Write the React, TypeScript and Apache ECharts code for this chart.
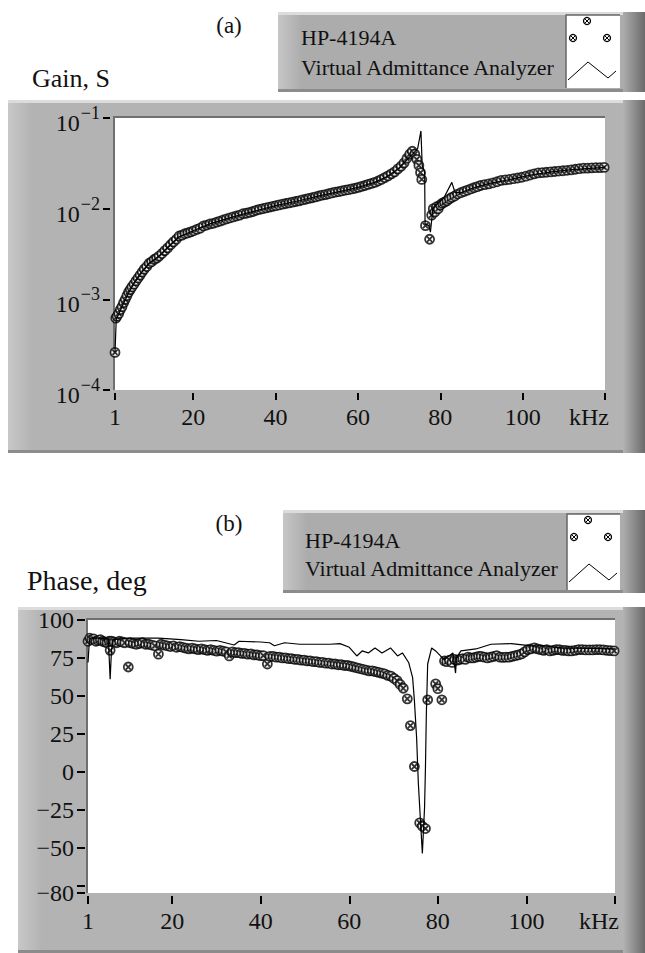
import React, { useEffect, useRef } from "react";
import * as echarts from "echarts";

const FONT = '"Liberation Serif", "Times New Roman", serif';

// ---------- (a) Gain ----------
const gainMarkFreq = [1, 1.2, 1.5, 1.9, 2.3, 2.7, 3.1, 3.5, 3.9, 4.3, 4.7, 5.1, 5.6, 6.1, 6.6, 7.1, 7.6, 8.1, 8.7, 9.3, 9.9, 10.5, 11.1, 11.7, 12.4, 13.1, 13.8, 14.5, 15.2, 15.9, 16.6, 17.3, 18.0, 18.7, 19.4, 20.1, 20.9, 21.7, 22.5, 23.3, 24.1, 24.9, 25.7, 26.5, 27.3, 28.1, 28.9, 29.7, 30.5, 31.3, 32.1, 32.9, 33.7, 34.5, 35.3, 36.1, 36.9, 37.7, 38.5, 39.3, 40.1, 40.9, 41.7, 42.5, 43.3, 44.1, 44.9, 45.7, 46.5, 47.3, 48.1, 48.9, 49.7, 50.5, 51.3, 52.1, 52.9, 53.7, 54.5, 55.3, 56.1, 56.9, 57.7, 58.5, 59.3, 60.1, 60.9, 61.7, 62.5, 63.3, 64.1, 64.9, 65.7, 66.5, 67.3, 68.1, 68.9, 69.7, 70.5, 71.2, 71.9, 72.6, 73.2, 73.8, 74.3, 74.8, 75.2, 75.5, 76.4, 77.4, 77.9, 78.3, 78.7, 79.1, 79.5, 80.0, 80.5, 81.0, 81.6, 82.2, 82.8, 83.5, 84.2, 85.0, 85.8, 86.6, 87.4, 88.2, 89.0, 89.8, 90.8, 91.8, 92.8, 93.8, 94.8, 95.8, 96.8, 97.8, 98.8, 99.8, 100.8, 101.8, 102.8, 103.8, 104.8, 105.8, 106.8, 107.8, 108.8, 109.8, 110.8, 111.8, 112.8, 113.8, 114.8, 115.8, 116.8, 117.8, 118.8, 119.8];
const gainMarkVal = [2.6e-4, 6.2e-4, 6.5e-4, 7.0e-4, 7.7e-4, 8.3e-4, 9.2e-4, 1.0e-3, 1.1e-3, 1.2e-3, 1.28e-3, 1.37e-3, 1.47e-3, 1.6e-3, 1.72e-3, 1.85e-3, 2.0e-3, 2.15e-3, 2.3e-3, 2.5e-3, 2.6e-3, 2.75e-3, 2.85e-3, 3.0e-3, 3.2e-3, 3.45e-3, 3.7e-3, 4.0e-3, 4.3e-3, 4.6e-3, 5.0e-3, 5.1e-3, 5.3e-3, 5.4e-3, 5.55e-3, 5.7e-3, 5.9e-3, 6.1e-3, 6.45e-3, 6.6e-3, 6.8e-3, 6.9e-3, 7.1e-3, 7.3e-3, 7.5e-3, 7.7e-3, 7.9e-3, 8.1e-3, 8.3e-3, 8.5e-3, 8.8e-3, 8.9e-3, 9.1e-3, 9.3e-3, 9.6e-3, 9.8e-3, 1.0e-2, 1.02e-2, 1.04e-2, 1.06e-2, 1.08e-2, 1.1e-2, 1.12e-2, 1.14e-2, 1.16e-2, 1.18e-2, 1.2e-2, 1.22e-2, 1.25e-2, 1.27e-2, 1.3e-2, 1.32e-2, 1.35e-2, 1.38e-2, 1.41e-2, 1.43e-2, 1.46e-2, 1.49e-2, 1.52e-2, 1.54e-2, 1.57e-2, 1.6e-2, 1.62e-2, 1.65e-2, 1.68e-2, 1.72e-2, 1.76e-2, 1.8e-2, 1.85e-2, 1.9e-2, 1.95e-2, 2.02e-2, 2.1e-2, 2.2e-2, 2.3e-2, 2.42e-2, 2.55e-2, 2.75e-2, 2.95e-2, 3.2e-2, 3.6e-2, 4.0e-2, 4.3e-2, 4.0e-2, 3.5e-2, 3.0e-2, 2.5e-2, 2.1e-2, 6.5e-3, 4.6e-3, 8.5e-3, 1.0e-2, 9.2e-3, 1.05e-2, 1.0e-2, 1.1e-2, 1.15e-2, 1.18e-2, 1.22e-2, 1.28e-2, 1.33e-2, 1.38e-2, 1.45e-2, 1.5e-2, 1.55e-2, 1.6e-2, 1.65e-2, 1.7e-2, 1.75e-2, 1.8e-2, 1.84e-2, 1.88e-2, 1.93e-2, 1.98e-2, 2.05e-2, 2.08e-2, 2.1e-2, 2.14e-2, 2.18e-2, 2.22e-2, 2.28e-2, 2.35e-2, 2.42e-2, 2.48e-2, 2.5e-2, 2.52e-2, 2.55e-2, 2.57e-2, 2.6e-2, 2.62e-2, 2.65e-2, 2.68e-2, 2.72e-2, 2.76e-2, 2.8e-2, 2.8e-2, 2.82e-2, 2.83e-2, 2.84e-2, 2.85e-2];

const gainLineFreq = [1, 1.3, 2.7, 4.2, 5.6, 7.3, 9.3, 11.7, 14.2, 16.6, 20, 24, 28.8, 33.7, 40, 45.9, 50.8, 56, 60, 64, 67, 70, 72, 73.5, 74.5, 75.3, 75.6, 76.2, 76.3, 77.2, 77.6, 78.2, 79.5, 81, 82.8, 83.6, 85, 88, 92, 97, 102, 107, 112, 120];
const gainLineVal = [2.6e-4, 6.0e-4, 8.3e-4, 1.15e-3, 1.5e-3, 1.95e-3, 2.5e-3, 3.0e-3, 3.9e-3, 4.9e-3, 5.7e-3, 6.8e-3, 7.9e-3, 9.1e-3, 1.08e-2, 1.23e-2, 1.39e-2, 1.56e-2, 1.72e-2, 1.95e-2, 2.25e-2, 2.8e-2, 3.5e-2, 4.1e-2, 4.6e-2, 7.2e-2, 3.0e-2, 2.5e-2, 6.8e-3, 6.5e-3, 5.5e-3, 1.0e-2, 1.15e-2, 1.35e-2, 1.95e-2, 1.5e-2, 1.5e-2, 1.7e-2, 1.9e-2, 2.1e-2, 2.35e-2, 2.55e-2, 2.7e-2, 2.85e-2];

// ---------- (b) Phase ----------
const phaseMarkFreq = [1, 1.4, 1.8, 2.3, 2.8, 3.3, 3.8, 4.3, 4.8, 5.3, 5.8, 6.0, 6.3, 6.9, 7.5, 8.1, 8.7, 9.3, 10.1, 10.5, 11.2, 11.9, 12.6, 13.3, 14, 14.7, 15.4, 16.1, 16.9, 17.5, 18.2, 18.9, 19.6, 20.3, 21, 21.7, 22.4, 23.1, 23.8, 24.5, 25.2, 25.9, 26.6, 27.3, 28, 28.7, 29.4, 30.1, 30.8, 31.5, 32.2, 32.9, 33.6, 34.3, 35, 35.7, 36.4, 37.1, 37.8, 38.5, 39.2, 39.9, 40.6, 41.5, 42.1, 42.8, 43.5, 44.2, 44.9, 45.6, 46.3, 47, 47.7, 48.4, 49.1, 49.8, 50.5, 51.2, 51.9, 52.6, 53.3, 54, 54.7, 55.4, 56.1, 56.8, 57.5, 58.2, 58.9, 59.6, 60.3, 61, 61.7, 62.4, 63.1, 63.8, 64.5, 65.2, 65.9, 66.6, 67.3, 68, 68.7, 69.4, 70.1, 70.8, 71.5, 72.2, 73.1, 73.8, 74.7, 75.9, 76.5, 77.2, 77.7, 79.5, 80, 80.9, 81.5, 82, 82.6, 83.2, 83.8, 84.4, 85, 85.6, 86.2, 86.8, 87.4, 88, 88.6, 89.2, 89.8, 90.5, 91.2, 91.9, 92.6, 93.3, 94, 94.7, 95.4, 96.1, 96.8, 97.5, 98.2, 98.9, 99.6, 100.3, 101, 101.8, 102.5, 103.2, 103.9, 104.6, 105.3, 106, 106.7, 107.4, 108.1, 108.8, 109.5, 110.2, 111, 111.8, 112.6, 113.4, 114.2, 115, 115.8, 116.6, 117.4, 118.2, 119, 119.8];
const phaseMarkVal = [86, 88, 87, 87.5, 86, 86.5, 87, 86, 85.5, 85, 86, 80, 86, 85.5, 85, 86, 85.5, 85, 69, 85, 84.5, 84, 84.5, 85, 84, 84, 83.5, 83, 77.5, 84, 83.5, 83, 82.5, 83, 82, 82.5, 82, 81.5, 81, 81.5, 81, 80.5, 81, 80.5, 80, 80.5, 80, 79.5, 80, 79.5, 79, 76.3, 79, 78.5, 78.5, 78, 78, 77.5, 77.6, 77, 77, 76.5, 76.5, 71, 76, 76, 75.5, 75.5, 75, 75, 74.5, 74.5, 74, 74, 73.5, 73.5, 73, 73, 72.5, 72.5, 72, 72, 71.5, 71.5, 71, 71, 70.5, 70.5, 70, 70, 69.5, 69, 68.5, 68, 67.5, 67, 66.5, 66.5, 66, 65.5, 65, 64.5, 63.5, 63, 61.5, 60, 57.5, 55, 48, 30.4, 3.4, -33.8, -36, -37.5, 47.4, 57.9, 54.7, 47.4, 73, 72.5, 73.5, 72, 74, 73.5, 74, 74.5, 74, 75.5, 75, 75, 75.5, 76, 76, 75.5, 75, 75.5, 76, 76.5, 75.5, 75.3, 75.5, 75.5, 76, 76.5, 77, 77.6, 79, 80.5, 81, 81.6, 81, 80.5, 80, 80.5, 79.6, 80, 80.5, 80.5, 80, 80, 79.6, 79.6, 80, 80.5, 80.5, 80.3, 80.3, 80.3, 80.5, 80.5, 80.3, 80, 79.8, 79.6];

const phaseLineFreq = [1, 1.3, 1.6, 3, 5.6, 6, 6.3, 6.7, 10, 16.9, 22, 26, 30, 34, 35.1, 40, 42, 43.1, 45.4, 48.8, 55.6, 57.9, 60, 61.7, 62.9, 64.3, 65.8, 67.4, 69.3, 70.9, 72, 73.4, 74.3, 74.7, 75.2, 75.6, 75.9, 76.5, 77, 77.2, 77.4, 77.7, 78.6, 79.5, 80.6, 81.5, 83.4, 84, 84.2, 85.2, 88.6, 92, 96.6, 101.1, 104, 107.9, 120];
const phaseLineVal = [72, 86, 88, 88, 87.5, 61, 80, 87, 88, 88, 87, 86, 86.5, 83.5, 86, 85.5, 85, 83, 85, 84, 84, 84.4, 82, 76.3, 79.6, 78.3, 81.6, 78.3, 81.6, 76.3, 78.3, 72, 62, 47, 22.5, -8, -23.5, -54, -23.5, 3, 38, 71, 81.6, 79.6, 76.3, 74, 78.3, 65, 75, 79.6, 80.9, 84, 84.4, 83, 83, 81.6, 81];

// ---------- axis ticks / labels ----------
const xTicks = [1, 20, 40, 60, 80, 100, 120];
const phaseTickValues = [100, 75, 50, 25, 0, -25, -50, -75, -80];
const phaseLabelValues = [100, 75, 50, 25, 0, -25, -50, -80];

const MARKER = "path://M10,5A5,5,0,1,1,0,5A5,5,0,1,1,10,5ZM2.2,2.2L7.8,7.8M7.8,2.2L2.2,7.8";

function pairs(xs: number[], ys: number[]) {
  return xs.map((x, i) => [x, ys[i]]);
}

function panel(x: number, y: number, w: number, h: number, base: string, light: string) {
  return [
    { type: "rect", shape: { x, y, width: w, height: h }, style: { fill: base }, z: 0, silent: true },
    {
      type: "rect",
      shape: { x, y, width: 24, height: h },
      style: {
        fill: new echarts.graphic.LinearGradient(0, 0, 1, 0, [
          { offset: 0, color: light },
          { offset: 1, color: base },
        ]),
      },
      z: 0,
      silent: true,
    },
    { type: "rect", shape: { x, y, width: w, height: 3 }, style: { fill: "#dcdcdc" }, z: 0, silent: true },
    { type: "rect", shape: { x, y: y + h - 3, width: w, height: 3 }, style: { fill: "#8c8c8c" }, z: 0, silent: true },
    {
      type: "rect",
      shape: { x: 645 - 22, y, width: 22, height: h },
      style: {
        fill: new echarts.graphic.LinearGradient(0, 0, 1, 0, [
          { offset: 0, color: base },
          { offset: 1, color: "#6a6a6a" },
        ]),
      },
      z: 0,
      silent: true,
    },
  ];
}

function plotArea(x: number, y: number, w: number, h: number) {
  return [
    { type: "rect", shape: { x, y, width: w, height: h }, style: { fill: "#ffffff" }, z: 1, silent: true },
    {
      type: "polyline",
      shape: { points: [[x - 1, y + h], [x - 1, y - 1], [x + w, y - 1]] },
      style: { stroke: "#707070", lineWidth: 2, fill: "none" },
      z: 1,
      silent: true,
    },
  ];
}

function markerIcon(cx: number, cy: number) {
  return [
    { type: "circle", shape: { cx, cy, r: 3.5 }, style: { fill: "#fff", stroke: "#000", lineWidth: 1.3 }, z: 2, silent: true },
    { type: "line", shape: { x1: cx - 2.3, y1: cy - 2.3, x2: cx + 2.3, y2: cy + 2.3 }, style: { stroke: "#000", lineWidth: 1 }, z: 2, silent: true },
    { type: "line", shape: { x1: cx + 2.3, y1: cy - 2.3, x2: cx - 2.3, y2: cy + 2.3 }, style: { stroke: "#000", lineWidth: 1 }, z: 2, silent: true },
  ];
}

function legend(px: number, py: number, pw: number, ph: number, tx: number, ty1: number, ty2: number, bx: number, by: number, bw: number, bh: number) {
  const els: any[] = [];
  els.push(...panel(px, py, pw, ph, "#acacac", "#c6c6c6"));
  els.push({ type: "text", x: tx, y: ty1, style: { text: "HP-4194A", font: `22px ${FONT}`, fill: "#111", verticalAlign: "middle" }, z: 2, silent: true });
  els.push({ type: "text", x: tx, y: ty2, style: { text: "Virtual Admittance Analyzer", font: `22px ${FONT}`, fill: "#111", verticalAlign: "middle" }, z: 2, silent: true });
  els.push({ type: "rect", shape: { x: bx, y: by, width: bw, height: bh }, style: { fill: "#fff" }, z: 1, silent: true });
  els.push({ type: "polyline", shape: { points: [[bx, by + bh], [bx, by], [bx + bw, by]] }, style: { stroke: "#666", lineWidth: 1.5, fill: "none" }, z: 2, silent: true });
  els.push(...markerIcon(bx + 21, by + 6));
  els.push(...markerIcon(bx + 7, by + 23));
  els.push(...markerIcon(bx + 41, by + 23));
  els.push({
    type: "polyline",
    shape: { points: [[bx + 2, by + bh - 8], [bx + 22, by + bh - 26], [bx + 42, by + bh - 10], [bx + 50, by + bh - 17]] },
    style: { stroke: "#000", lineWidth: 1, fill: "none" },
    z: 2,
    silent: true,
  });
  return els;
}

const labelStyle = { fontFamily: FONT, fontSize: 24, color: "#111" };

export default function App() {
  const ref = useRef<HTMLDivElement>(null);
  useEffect(() => {
    if (!ref.current) return;
    const chart = echarts.init(ref.current, undefined, { renderer: "svg" });

    const graphic: any[] = [];
    graphic.push({ type: "text", x: 229, y: 25, style: { text: "(a)", font: `23px ${FONT}`, fill: "#111", align: "center", verticalAlign: "middle" }, z: 2, silent: true });
    graphic.push({ type: "text", x: 229, y: 523, style: { text: "(b)", font: `23px ${FONT}`, fill: "#111", align: "center", verticalAlign: "middle" }, z: 2, silent: true });
    graphic.push({ type: "text", x: 32, y: 78, style: { text: "Gain, S", font: `26px ${FONT}`, fill: "#111", verticalAlign: "middle" }, z: 2, silent: true });
    graphic.push({ type: "text", x: 27, y: 580, style: { text: "Phase, deg", font: `28px ${FONT}`, fill: "#111", verticalAlign: "middle" }, z: 2, silent: true });
    graphic.push(...legend(278, 12, 367, 80, 301, 37, 67, 566, 15, 54, 73));
    graphic.push(...legend(283, 510, 362, 83, 305, 540, 568, 567, 514, 53, 76));
    graphic.push(...panel(8, 100, 637, 353, "#b3b3b3", "#c8c8c8"));
    graphic.push(...plotArea(115, 118, 490, 272));
    graphic.push(...panel(18, 607, 627, 346, "#b3b3b3", "#c8c8c8"));
    graphic.push(...plotArea(88, 620, 527, 273));

    const xAxisCommon = (offset: number, tickLen: number, margin: number) => ({
      type: "value",
      min: 1,
      max: 120,
      offset,
      z: 5,
      axisLine: { show: false, onZero: false },
      splitLine: { show: false },
      axisTick: { show: true, length: tickLen, customValues: xTicks, lineStyle: { color: "#000", width: 2 } },
      axisLabel: {
        ...labelStyle,
        margin,
        customValues: xTicks,
        formatter: (v: number) => (v === 120 ? "{k|kHz}" : String(v)),
        rich: { k: { ...labelStyle, padding: [0, 32, 0, 0] } },
      },
    });

    const option: any = {
      animation: false,
      backgroundColor: "#ffffff",
      graphic: { elements: graphic },
      grid: [
        { left: 115, top: 118, width: 490, height: 272 },
        { left: 88, top: 620, width: 527, height: 273 },
      ],
      xAxis: [
        { ...xAxisCommon(3, 7, 12), gridIndex: 0 },
        { ...xAxisCommon(3, 8, 13), gridIndex: 1 },
      ],
      yAxis: [
        {
          gridIndex: 0,
          type: "log",
          logBase: 10,
          min: 1e-4,
          max: 1e-1,
          offset: 5,
          z: 5,
          axisLine: { show: false, onZero: false },
          splitLine: { show: false },
          minorTick: { show: false },
          axisTick: { show: true, length: 7, lineStyle: { color: "#000", width: 2 } },
          axisLabel: {
            ...labelStyle,
            margin: 10,
            formatter: (v: number) => {
              const e = Math.round(Math.log10(v));
              return `{b|10}{s|−${-e}}`;
            },
            rich: {
              b: { ...labelStyle, padding: [10, 0, 0, 0] },
              s: { fontFamily: FONT, fontSize: 18, color: "#111", padding: [0, 0, 10, 1] },
            },
          },
        },
        {
          gridIndex: 1,
          type: "value",
          min: -80,
          max: 100,
          offset: 3,
          z: 5,
          axisLine: { show: false, onZero: false },
          splitLine: { show: false },
          axisTick: { show: true, length: 8, customValues: phaseTickValues, lineStyle: { color: "#000", width: 2 } },
          axisLabel: {
            ...labelStyle,
            margin: 11,
            customValues: phaseLabelValues,
            formatter: (v: number) => (v < 0 ? "−" + -v : String(v)),
          },
        },
      ],
      series: [
        {
          type: "scatter",
          xAxisIndex: 0,
          yAxisIndex: 0,
          z: 3,
          symbol: MARKER,
          symbolSize: 9,
          itemStyle: { color: "#ffffff", borderColor: "#000", borderWidth: 1.8 },
          data: pairs(gainMarkFreq, gainMarkVal),
        },
        {
          type: "line",
          xAxisIndex: 0,
          yAxisIndex: 0,
          z: 4,
          symbol: "none",
          lineStyle: { color: "#000", width: 1.2 },
          data: pairs(gainLineFreq, gainLineVal),
        },
        {
          type: "scatter",
          xAxisIndex: 1,
          yAxisIndex: 1,
          z: 3,
          symbol: MARKER,
          symbolSize: 9,
          itemStyle: { color: "#ffffff", borderColor: "#000", borderWidth: 1.8 },
          data: pairs(phaseMarkFreq, phaseMarkVal),
        },
        {
          type: "line",
          xAxisIndex: 1,
          yAxisIndex: 1,
          z: 4,
          symbol: "none",
          lineStyle: { color: "#000", width: 1.2 },
          data: pairs(phaseLineFreq, phaseLineVal),
        },
      ],
    };
    chart.setOption(option);
    return () => chart.dispose();
  }, []);
  return <div ref={ref} style={{ position: "fixed", left: 0, top: 0, width: 645, height: 953 }} />;
}
